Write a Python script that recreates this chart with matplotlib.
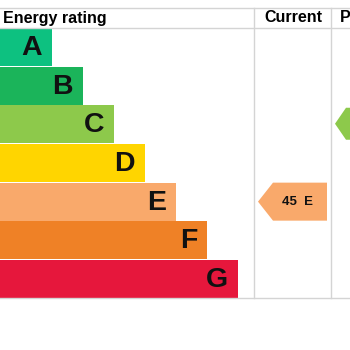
import matplotlib.pyplot as plt
from matplotlib.patches import Polygon

# EPC bands, top (best) to bottom (worst)
bands = ['A', 'B', 'C', 'D', 'E', 'F', 'G']
band_colors = ['#0dc180', '#1bb45a', '#8dc94b', '#ffd500', '#f9a96b', '#ef8126', '#e6173c']
current_score = 45
current_band = 'E'
potential_band = 'C'

plt.rcParams['font.family'] = ['Liberation Sans', 'DejaVu Sans']

fig = plt.figure(figsize=(3.5, 3.5), dpi=100)
ax = fig.add_axes([0, 0, 1, 1])
ax.set_xlim(0, 350)
ax.set_ylim(350, 0)
ax.axis('off')

# layout (pixel units)
top, head_bot, row_h = 8, 27.5, 38.7
bottom = head_bot + row_h * len(bands)
col1, col2 = 254, 331
grid_c = '#d4d4d4'

rows = [head_bot + row_h * (i + 0.5) for i in range(len(bands))]
widths = [52 + 31 * i for i in range(len(bands))]

ax.barh(rows, widths, height=row_h - 0.8, color=band_colors, left=0)
for y, w, b in zip(rows, widths, bands):
    ax.text(w - 10, y + 1, b, ha='right', va='center', fontsize=20.5,
            fontweight='bold', color='#111111')

# table lines
for y in (top, head_bot, bottom):
    ax.plot([0, 350], [y, y], color=grid_c, lw=1)
for x in (col1, col2):
    ax.plot([x, x], [top, bottom], color=grid_c, lw=1)

ax.text(3, 18, 'Energy rating', ha='left', va='center', fontsize=11.5, fontweight='bold')
ax.text(293, 18, 'Current', ha='center', va='center', fontsize=11.5, fontweight='bold')
ax.text(340, 18, 'Potential', ha='left', va='center', fontsize=11.5, fontweight='bold')


def arrow(x0, x1, y, color, half=19, tip=15):
    pts = [(x0, y), (x0 + tip, y - half), (x1, y - half), (x1, y + half), (x0 + tip, y + half)]
    ax.add_patch(Polygon(pts, closed=True, color=color, lw=0))


ci = bands.index(current_band)
arrow(258, 327, rows[ci], band_colors[ci])
ax.text(298, rows[ci] + 0.5, f'{current_score}  {current_band}', ha='center', va='center',
        fontsize=9.5, fontweight='bold', color='#111111')

pi = bands.index(potential_band)
arrow(335, 410, rows[pi] - 0.5, band_colors[pi], half=16, tip=11)

fig.savefig('out.png', dpi=100, facecolor='white')
